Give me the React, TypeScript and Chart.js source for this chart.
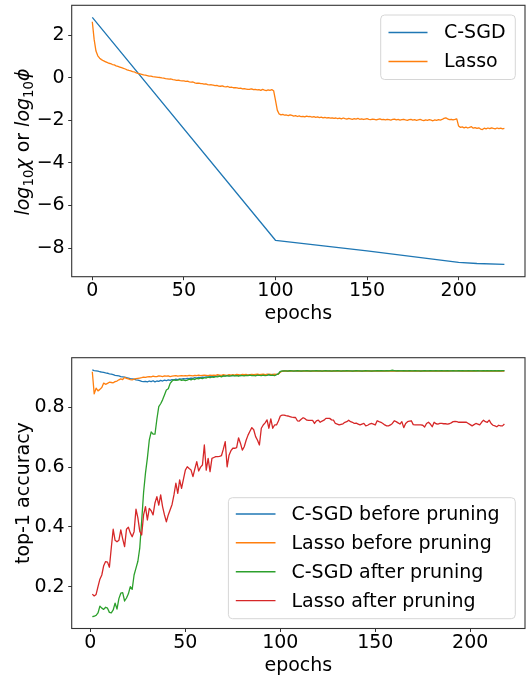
import React, { useEffect, useRef } from "react";
import { Chart, registerables } from "chart.js";

Chart.register(...registerables);

const FONT = "'DejaVu Sans', 'Liberation Sans', sans-serif";
const FS = 19;
const BLUE = "#1f77b4";
const ORANGE = "#ff7f0e";
const GREEN = "#2ca02c";
const RED = "#d62728";

// ---------------- top chart data ----------------
const topXTicks = [0, 50, 100, 150, 200];
const topYTicks = [-8, -6, -4, -2, 0, 2];
const csgdChiEpochs = [0, 100, 150, 200, 210, 225];
const csgdChiLog = [2.83, -7.63, -8.13, -8.67, -8.72, -8.76];
// epochs 0..225
const lassoPhiLog = [
  2.63, 1.8, 1.25, 1.03, 0.92, 0.85, 0.8, 0.76, 0.72, 0.68,
  0.66, 0.62, 0.6, 0.56, 0.53, 0.5, 0.47, 0.44, 0.41, 0.37,
  0.34, 0.32, 0.29, 0.27, 0.23, 0.2, 0.18, 0.16, 0.13, 0.12,
  0.1, 0.08, 0.08, 0.05, 0.04, 0.03, 0.02, 0.01, -0.01, -0.02,
  -0.04, -0.05, -0.07, -0.06, -0.09, -0.1, -0.12, -0.11, -0.14, -0.15,
  -0.15, -0.17, -0.16, -0.19, -0.21, -0.2, -0.24, -0.26, -0.25, -0.27,
  -0.28, -0.3, -0.29, -0.32, -0.34, -0.33, -0.35, -0.37, -0.36, -0.39,
  -0.4, -0.38, -0.42, -0.43, -0.41, -0.45, -0.44, -0.47, -0.46, -0.48,
  -0.5, -0.49, -0.52, -0.51, -0.53, -0.55, -0.54, -0.52, -0.56, -0.55,
  -0.57, -0.56, -0.59, -0.55, -0.58, -0.6, -0.57, -0.59, -0.56, -0.61,
  -1.05, -1.52, -1.7, -1.74, -1.72, -1.76, -1.75, -1.78, -1.74, -1.77,
  -1.8, -1.78, -1.82, -1.79, -1.83, -1.81, -1.84, -1.8, -1.83, -1.82,
  -1.85, -1.83, -1.86, -1.84, -1.87, -1.85, -1.88, -1.86, -1.89, -1.87,
  -1.9, -1.88, -1.91, -1.89, -1.92, -1.9, -1.93, -1.89, -1.92, -1.94,
  -1.91, -1.93, -1.95, -1.92, -1.94, -1.91, -1.95, -1.93, -1.96, -1.94,
  -1.92, -1.95, -1.97, -1.94, -1.96, -1.98, -1.95, -1.93, -1.97, -1.96,
  -1.98, -1.95, -1.97, -1.99, -1.96, -1.94, -1.98, -1.96, -1.99, -1.97,
  -1.95, -1.98, -2.0, -1.97, -1.96, -1.99, -1.97, -2.0, -1.98, -1.96,
  -1.99, -2.01, -1.98, -2.0, -1.97, -1.99, -2.02, -1.98, -2.0, -1.97,
  -1.99, -1.96, -1.91, -1.88, -1.93, -1.97, -1.95, -1.98, -1.96, -1.93,
  -2.27, -2.33, -2.31, -2.35, -2.32, -2.36, -2.33, -2.3, -2.37, -2.34,
  -2.38, -2.35, -2.41, -2.43, -2.37, -2.4, -2.36, -2.39, -2.35, -2.38,
  -2.4, -2.36, -2.39, -2.37, -2.4, -2.38,
];

// ---------------- bottom chart data (epochs 1..218) ----------------
const bottomXTicks = [0, 50, 100, 150, 200];
const bottomYTicks = [0.2, 0.4, 0.6, 0.8];
const csgdBefore = [
  0.925, 0.923, 0.922, 0.921, 0.919, 0.918, 0.917, 0.915, 0.914, 0.912,
  0.911, 0.909, 0.907, 0.906, 0.905, 0.903, 0.902, 0.901, 0.899, 0.898,
  0.896, 0.895, 0.894, 0.892, 0.891, 0.889, 0.887, 0.886, 0.887, 0.885,
  0.888, 0.886, 0.889, 0.885, 0.888, 0.887, 0.89, 0.888, 0.891, 0.889,
  0.892, 0.89, 0.893, 0.892, 0.894, 0.893, 0.895, 0.894, 0.896, 0.895,
  0.897, 0.896, 0.898, 0.897, 0.899, 0.898, 0.9, 0.899, 0.901, 0.9,
  0.902, 0.901, 0.903, 0.902, 0.904, 0.903, 0.905, 0.904, 0.905, 0.906,
  0.905, 0.906, 0.907, 0.906, 0.907, 0.906, 0.908, 0.907, 0.906, 0.908,
  0.907, 0.908, 0.907, 0.909, 0.908, 0.907, 0.909, 0.908, 0.909, 0.908,
  0.909, 0.908, 0.91, 0.909, 0.908, 0.91, 0.909, 0.91, 0.912, 0.919,
  0.921, 0.922, 0.921, 0.922, 0.921, 0.922, 0.922, 0.921, 0.922, 0.921,
  0.922, 0.921, 0.922, 0.922, 0.921, 0.922, 0.921, 0.922, 0.922, 0.921,
  0.922, 0.921, 0.922, 0.922, 0.921, 0.922, 0.921, 0.922, 0.921, 0.922,
  0.922, 0.921, 0.922, 0.921, 0.922, 0.922, 0.921, 0.922, 0.921, 0.922,
  0.922, 0.921, 0.922, 0.921, 0.922, 0.922, 0.921, 0.922, 0.921, 0.922,
  0.922, 0.923, 0.922, 0.923, 0.922, 0.923, 0.923, 0.922, 0.923, 0.922,
  0.923, 0.922, 0.923, 0.923, 0.922, 0.923, 0.922, 0.923, 0.922, 0.922,
  0.923, 0.922, 0.922, 0.923, 0.922, 0.923, 0.922, 0.922, 0.923, 0.922,
  0.923, 0.922, 0.922, 0.923, 0.922, 0.922, 0.923, 0.922, 0.922, 0.923,
  0.922, 0.923, 0.922, 0.922, 0.923, 0.922, 0.922, 0.923, 0.922, 0.923,
  0.922, 0.923, 0.922, 0.923, 0.922, 0.922, 0.923, 0.922, 0.923, 0.922,
  0.923, 0.922, 0.923, 0.922, 0.923, 0.922, 0.923, 0.922,
];
const lassoBefore = [
  0.919, 0.845, 0.864, 0.855, 0.86, 0.866, 0.881, 0.877, 0.88, 0.884,
  0.883, 0.882, 0.886, 0.888, 0.892, 0.895, 0.893, 0.9, 0.897, 0.895,
  0.893, 0.892, 0.894, 0.896, 0.897, 0.898, 0.899, 0.901, 0.9, 0.902,
  0.903, 0.902, 0.904, 0.903, 0.903, 0.905, 0.904, 0.903, 0.905, 0.904,
  0.905, 0.903, 0.904, 0.905, 0.906, 0.904, 0.905, 0.906, 0.905, 0.906,
  0.905, 0.907, 0.906, 0.905, 0.907, 0.906, 0.908, 0.906, 0.907, 0.908,
  0.907, 0.906, 0.908, 0.907, 0.908, 0.907, 0.909, 0.908, 0.907, 0.909,
  0.908, 0.907, 0.909, 0.908, 0.909, 0.908, 0.91, 0.909, 0.908, 0.91,
  0.909, 0.91, 0.908, 0.909, 0.91, 0.909, 0.91, 0.911, 0.909, 0.91,
  0.911, 0.909, 0.91, 0.911, 0.91, 0.909, 0.911, 0.91, 0.911, 0.918,
  0.921, 0.921, 0.922, 0.921, 0.922, 0.921, 0.922, 0.922, 0.921, 0.922,
  0.921, 0.922, 0.921, 0.921, 0.922, 0.921, 0.922, 0.921, 0.921, 0.922,
  0.921, 0.922, 0.921, 0.922, 0.921, 0.921, 0.922, 0.921, 0.922, 0.921,
  0.921, 0.922, 0.921, 0.922, 0.921, 0.922, 0.921, 0.921, 0.922, 0.921,
  0.922, 0.921, 0.921, 0.922, 0.921, 0.922, 0.921, 0.922, 0.921, 0.921,
  0.922, 0.921, 0.922, 0.921, 0.922, 0.921, 0.921, 0.922, 0.921, 0.922,
  0.921, 0.922, 0.921, 0.921, 0.922, 0.921, 0.922, 0.921, 0.922, 0.921,
  0.921, 0.922, 0.921, 0.922, 0.921, 0.922, 0.921, 0.921, 0.922, 0.921,
  0.922, 0.921, 0.922, 0.921, 0.921, 0.922, 0.921, 0.922, 0.921, 0.922,
  0.922, 0.923, 0.922, 0.922, 0.921, 0.922, 0.921, 0.922, 0.921, 0.922,
  0.921, 0.922, 0.921, 0.922, 0.922, 0.921, 0.922, 0.921, 0.922, 0.921,
  0.922, 0.921, 0.922, 0.921, 0.922, 0.921, 0.922, 0.921,
];
const csgdAfter = [
  0.1, 0.101, 0.104, 0.112, 0.135, 0.128, 0.124, 0.131, 0.128, 0.114,
  0.112, 0.122, 0.145, 0.125, 0.16, 0.178, 0.18, 0.152, 0.162, 0.176,
  0.2, 0.191, 0.239, 0.262, 0.285, 0.33, 0.42, 0.515, 0.58, 0.63,
  0.69, 0.718, 0.71, 0.71, 0.76, 0.802, 0.812, 0.825, 0.841, 0.858,
  0.862, 0.88, 0.888, 0.892, 0.89, 0.891, 0.893, 0.89, 0.892, 0.889,
  0.891, 0.894, 0.892, 0.895, 0.893, 0.897, 0.895, 0.898, 0.896, 0.899,
  0.898, 0.901, 0.899, 0.902, 0.9, 0.903, 0.902, 0.904, 0.902, 0.905,
  0.904, 0.906, 0.904, 0.905, 0.907, 0.905, 0.906, 0.904, 0.907, 0.906,
  0.905, 0.907, 0.906, 0.908, 0.906, 0.907, 0.905, 0.908, 0.907, 0.906,
  0.908, 0.906, 0.907, 0.909, 0.907, 0.908, 0.906, 0.909, 0.912, 0.92,
  0.921, 0.922, 0.922, 0.921, 0.923, 0.922, 0.921, 0.922, 0.923, 0.922,
  0.921, 0.922, 0.922, 0.923, 0.922, 0.921, 0.922, 0.922, 0.923, 0.922,
  0.922, 0.921, 0.922, 0.923, 0.922, 0.922, 0.921, 0.922, 0.922, 0.923,
  0.922, 0.921, 0.922, 0.922, 0.923, 0.922, 0.922, 0.921, 0.922, 0.923,
  0.922, 0.922, 0.921, 0.922, 0.923, 0.922, 0.922, 0.921, 0.922, 0.922,
  0.923, 0.922, 0.923, 0.922, 0.922, 0.923, 0.922, 0.923, 0.924, 0.923,
  0.922, 0.923, 0.922, 0.922, 0.923, 0.922, 0.922, 0.923, 0.922, 0.922,
  0.923, 0.922, 0.922, 0.921, 0.922, 0.923, 0.922, 0.922, 0.923, 0.922,
  0.922, 0.923, 0.922, 0.922, 0.923, 0.922, 0.922, 0.923, 0.922, 0.922,
  0.923, 0.922, 0.922, 0.923, 0.922, 0.923, 0.922, 0.922, 0.923, 0.922,
  0.922, 0.923, 0.922, 0.923, 0.922, 0.922, 0.923, 0.922, 0.923, 0.922,
  0.923, 0.922, 0.923, 0.922, 0.923, 0.922, 0.923, 0.923,
];
const lassoAfter = [
  0.175, 0.169, 0.174, 0.2, 0.225, 0.239, 0.27, 0.284, 0.282, 0.265,
  0.33, 0.392, 0.355, 0.35, 0.355, 0.39, 0.36, 0.334, 0.392, 0.399,
  0.38, 0.367, 0.384, 0.459, 0.43, 0.385, 0.373, 0.44, 0.468, 0.423,
  0.462, 0.454, 0.44, 0.48, 0.501, 0.473, 0.507, 0.468, 0.44, 0.417,
  0.44, 0.457, 0.475, 0.507, 0.546, 0.512, 0.557, 0.529, 0.56, 0.59,
  0.601, 0.595, 0.59, 0.568, 0.594, 0.618, 0.587, 0.6, 0.607, 0.674,
  0.59, 0.629, 0.585, 0.629, 0.632, 0.635, 0.635, 0.636, 0.638, 0.66,
  0.685, 0.601, 0.64, 0.655, 0.663, 0.663, 0.665, 0.698, 0.68, 0.657,
  0.668, 0.69, 0.707, 0.72, 0.732, 0.725, 0.702, 0.69, 0.674, 0.73,
  0.741, 0.748, 0.758, 0.73, 0.761, 0.73, 0.741, 0.741, 0.754, 0.771,
  0.774, 0.774, 0.772, 0.771, 0.769, 0.767, 0.766, 0.766, 0.755, 0.754,
  0.76, 0.765, 0.762, 0.757, 0.756, 0.756, 0.756, 0.746, 0.755, 0.757,
  0.75, 0.754, 0.757, 0.763, 0.763, 0.763, 0.758, 0.757, 0.746, 0.744,
  0.741, 0.743, 0.745, 0.75, 0.752, 0.757, 0.752, 0.75, 0.746, 0.747,
  0.744, 0.741, 0.744, 0.746, 0.738, 0.74, 0.744, 0.746, 0.744, 0.741,
  0.755, 0.752, 0.75, 0.746, 0.741, 0.738, 0.738, 0.741, 0.746, 0.755,
  0.752, 0.748, 0.744, 0.752, 0.732, 0.746, 0.752, 0.754, 0.755, 0.742,
  0.741, 0.741, 0.741, 0.741, 0.74, 0.734, 0.746, 0.75, 0.744, 0.735,
  0.75, 0.745, 0.744, 0.746, 0.746, 0.745, 0.745, 0.744, 0.745, 0.748,
  0.752, 0.753, 0.752, 0.75, 0.75, 0.75, 0.75, 0.75, 0.746, 0.742,
  0.738, 0.742, 0.746, 0.744, 0.741, 0.75, 0.757, 0.752, 0.75, 0.757,
  0.746, 0.74, 0.738, 0.735, 0.74, 0.738, 0.738, 0.744,
];

// ---------------- helpers ----------------
type Row = { label: string; color: string; y: number };
type LegendSpec = { left: number; top: number; right: number; bottom: number; hx1: number; hx2: number; tx: number; rows: Row[] };

function drawLegend(ctx: CanvasRenderingContext2D, L: LegendSpec) {
  ctx.save();
  const r = 4;
  const x = L.left, y = L.top, w = L.right - L.left, h = L.bottom - L.top;
  ctx.beginPath();
  ctx.moveTo(x + r, y);
  ctx.lineTo(x + w - r, y);
  ctx.quadraticCurveTo(x + w, y, x + w, y + r);
  ctx.lineTo(x + w, y + h - r);
  ctx.quadraticCurveTo(x + w, y + h, x + w - r, y + h);
  ctx.lineTo(x + r, y + h);
  ctx.quadraticCurveTo(x, y + h, x, y + h - r);
  ctx.lineTo(x, y + r);
  ctx.quadraticCurveTo(x, y, x + r, y);
  ctx.closePath();
  ctx.fillStyle = "rgba(255,255,255,0.8)";
  ctx.fill();
  ctx.strokeStyle = "#d6d6d6";
  ctx.lineWidth = 1;
  ctx.stroke();
  for (const row of L.rows) {
    ctx.beginPath();
    ctx.strokeStyle = row.color;
    ctx.lineWidth = 1.4;
    ctx.moveTo(L.hx1, row.y);
    ctx.lineTo(L.hx2, row.y);
    ctx.stroke();
    ctx.fillStyle = "#000";
    ctx.font = `${FS}px ${FONT}`;
    ctx.textBaseline = "middle";
    ctx.textAlign = "left";
    ctx.fillText(row.label, L.tx, row.y + 1);
  }
  ctx.restore();
}

function drawFrame(ctx: CanvasRenderingContext2D, a: any) {
  ctx.save();
  ctx.strokeStyle = "#333";
  ctx.lineWidth = 1.1;
  ctx.strokeRect(a.left, a.top, a.right - a.left, a.bottom - a.top);
  ctx.restore();
}

type Seg = { t: string; it?: boolean; sub?: boolean };
function drawRotatedSegs(ctx: CanvasRenderingContext2D, segs: Seg[], bx: number, cy: number) {
  ctx.save();
  const fontOf = (s: Seg) => `${s.it ? "italic " : ""}${s.sub ? FS * 0.7 : FS}px ${FONT}`;
  let total = 0;
  const widths = segs.map((s) => {
    ctx.font = fontOf(s);
    const w = ctx.measureText(s.t).width;
    total += w;
    return w;
  });
  ctx.translate(bx, cy);
  ctx.rotate(-Math.PI / 2);
  ctx.fillStyle = "#000";
  ctx.textBaseline = "alphabetic";
  ctx.textAlign = "left";
  let x = -total / 2;
  segs.forEach((s, i) => {
    ctx.font = fontOf(s);
    ctx.fillText(s.t, x, s.sub ? 4 : 0);
    x += widths[i];
  });
  ctx.restore();
}

function drawCenteredText(ctx: CanvasRenderingContext2D, t: string, x: number, y: number) {
  ctx.save();
  ctx.font = `${FS}px ${FONT}`;
  ctx.fillStyle = "#000";
  ctx.textAlign = "center";
  ctx.textBaseline = "alphabetic";
  ctx.fillText(t, x, y);
  ctx.restore();
}

const fmtNum = (v: number) => (v < 0 ? "\u2212" + Math.abs(v) : String(v));

function axisOpts(ticks: number[], min: number, max: number, isY: boolean, fixed: number, fmt: (v: number) => string) {
  return {
    type: "linear" as const,
    min,
    max,
    border: { display: false },
    grid: { drawOnChartArea: false, drawTicks: true, tickLength: 3.5, color: "#333", lineWidth: 1 },
    ticks: {
      font: { family: FONT, size: FS },
      color: "#000",
      padding: isY ? 3.5 : -0.5,
      autoSkip: false,
      maxRotation: 0,
      callback: (v: any) => fmt(Number(v)),
    },
    afterBuildTicks: (scale: any) => {
      scale.ticks = ticks.map((v) => ({ value: v }));
    },
    afterFit: (scale: any) => {
      if (isY) scale.width = fixed;
      else scale.height = fixed;
      scale.paddingTop = 0;
      scale.paddingBottom = 0;
      scale.paddingLeft = 0;
      scale.paddingRight = 0;
    },
  };
}

function line(label: string, color: string, data: { x: number; y: number }[], order: number) {
  return {
    label,
    data,
    borderColor: color,
    backgroundColor: color,
    borderWidth: 1.3,
    pointRadius: 0,
    pointHoverRadius: 0,
    tension: 0,
    fill: false,
    borderJoinStyle: "round" as const,
    order,
  };
}

export default function App() {
  const topRef = useRef<HTMLCanvasElement | null>(null);
  const botRef = useRef<HTMLCanvasElement | null>(null);

  useEffect(() => {
    const topCanvas = topRef.current!;
    const botCanvas = botRef.current!;

    const topChart = new Chart(topCanvas, {
      type: "line",
      data: {
        datasets: [
          line("C-SGD", BLUE, csgdChiEpochs.map((e, i) => ({ x: e, y: csgdChiLog[i] })), 1),
          line("Lasso", ORANGE, lassoPhiLog.map((v, i) => ({ x: i, y: v })), 0),
        ],
      },
      options: {
        animation: false,
        responsive: false,
        devicePixelRatio: 1,
        events: [],
        layout: { padding: { left: 0, top: 5.3, right: 7, bottom: 0 } },
        plugins: { legend: { display: false }, tooltip: { enabled: false } },
        scales: {
          x: axisOpts(topXTicks, -11.25, 236.25, false, 63.3, (v) => fmtNum(v)),
          y: axisOpts(topYTicks, -9.34, 3.4, true, 71.7, (v) => fmtNum(v)),
        },
      } as any,
      plugins: [
        {
          id: "mplTop",
          afterDraw(chart: any) {
            const ctx = chart.ctx as CanvasRenderingContext2D;
            const a = chart.chartArea;
            drawFrame(ctx, a);
            drawLegend(ctx, {
              left: 380.7, top: 15, right: 515.3, bottom: 79.5,
              hx1: 388.5, hx2: 427.5, tx: 444,
              rows: [
                { label: "C-SGD", color: BLUE, y: 32.5 },
                { label: "Lasso", color: ORANGE, y: 61.5 },
              ],
            });
            drawCenteredText(ctx, "epochs", (a.left + a.right) / 2, 319);
            drawRotatedSegs(
              ctx,
              [
                { t: "log", it: true },
                { t: "10", sub: true },
                { t: "\u03c7", it: true },
                { t: " or " },
                { t: "log", it: true },
                { t: "10", sub: true },
                { t: "\u03d5", it: true },
              ],
              29.3,
              (a.top + a.bottom) / 2 + 1
            );
          },
        },
      ],
    });

    const botChart = new Chart(botCanvas, {
      type: "line",
      data: {
        datasets: [
          line("C-SGD before pruning", BLUE, csgdBefore.map((v, i) => ({ x: i + 1, y: v })), 3),
          line("Lasso before pruning", ORANGE, lassoBefore.map((v, i) => ({ x: i + 1, y: v })), 2),
          line("C-SGD after pruning", GREEN, csgdAfter.map((v, i) => ({ x: i + 1, y: v })), 1),
          line("Lasso after pruning", RED, lassoAfter.map((v, i) => ({ x: i + 1, y: v })), 0),
        ],
      },
      options: {
        animation: false,
        responsive: false,
        devicePixelRatio: 1,
        events: [],
        layout: { padding: { left: 0, top: 17.7, right: 7, bottom: 0 } },
        plugins: { legend: { display: false }, tooltip: { enabled: false } },
        scales: {
          x: axisOpts(bottomXTicks, -9.85, 228.85, false, 47.5, (v) => fmtNum(v)),
          y: axisOpts(bottomYTicks, 0.06, 0.966, true, 71.7, (v) => v.toFixed(1)),
        },
      } as any,
      plugins: [
        {
          id: "mplBot",
          afterDraw(chart: any) {
            const ctx = chart.ctx as CanvasRenderingContext2D;
            const a = chart.chartArea;
            drawFrame(ctx, a);
            drawLegend(ctx, {
              left: 228.4, top: 157.7, right: 515.3, bottom: 278.7,
              hx1: 235.8, hx2: 275.5, tx: 291.5,
              rows: [
                { label: "C-SGD before pruning", color: BLUE, y: 174 },
                { label: "Lasso before pruning", color: ORANGE, y: 202.8 },
                { label: "C-SGD after pruning", color: GREEN, y: 231.7 },
                { label: "Lasso after pruning", color: RED, y: 260.6 },
              ],
            });
            drawCenteredText(ctx, "epochs", (a.left + a.right) / 2, 331.3);
            drawRotatedSegs(ctx, [{ t: "top-1 accuracy" }], 28.5, (a.top + a.bottom) / 2);
          },
        },
      ],
    });

    return () => {
      topChart.destroy();
      botChart.destroy();
    };
  }, []);

  return (
    <div style={{ position: "absolute", left: 0, top: 0, width: 532, height: 676, background: "#fff", overflow: "hidden" }}>
      <canvas ref={topRef} width={532} height={340} style={{ position: "absolute", left: 0, top: 0, width: 532, height: 340 }} />
      <canvas ref={botRef} width={532} height={336} style={{ position: "absolute", left: 0, top: 340, width: 532, height: 336 }} />
    </div>
  );
}
